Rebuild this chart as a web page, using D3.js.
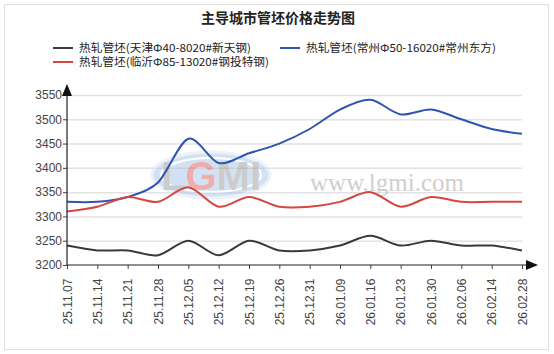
<!DOCTYPE html>
<html>
<head>
<meta charset="utf-8">
<script src="https://cdn.jsdelivr.net/npm/d3@7"></script>
<style>
  body { margin: 0; background: #fff; }
</style>
</head>
<body>
<script>
// data
var dates = ['25.11.07', '25.11.14', '25.11.21', '25.11.28', '25.12.05', '25.12.12', '25.12.19', '25.12.26',
  '25.12.31', '26.01.09', '26.01.16', '26.01.23', '26.01.30', '26.02.06', '26.02.14', '26.02.28'];
var tianjin = [3240, 3230, 3230, 3220, 3250, 3220, 3250, 3230, 3230, 3240, 3260, 3240, 3250, 3240, 3240, 3230];
var changzhou = [3330, 3330, 3340, 3370, 3460, 3410, 3430, 3450, 3480, 3520, 3540, 3510, 3520, 3500, 3480, 3470];
var linyi = [3310, 3320, 3340, 3330, 3360, 3320, 3340, 3320, 3320, 3330, 3350, 3320, 3340, 3330, 3330, 3330];
var yTicks = [3200, 3250, 3300, 3350, 3400, 3450, 3500, 3550];

var seriesNames = ['热轧管坯(天津Φ40-8020#新天钢)', '热轧管坯(常州Φ50-16020#常州东方)', '热轧管坯(临沂Φ85-13020#钢投特钢)'];
var seriesColors = ['#3a3a3a', '#2f55b0', '#d64541'];
var seriesData = [tianjin, changzhou, linyi];

var width = 554;
var height = 354;
var plotLeft = 67, plotRight = 522, plotTop = 95, plotBottom = 265;
var numFont = '"Liberation Sans", Arial, sans-serif';
var cjkFont = '"Noto Sans CJK SC", sans-serif';

var svg = d3.select('body').append('svg')
  .attr('width', width)
  .attr('height', height);

// outer frame
svg.append('rect')
  .attr('x', 4.5).attr('y', 4.5)
  .attr('width', 544).attr('height', 345)
  .attr('fill', '#fff')
  .attr('stroke', '#e0e0e0');

// title
svg.append('text')
  .style('font-family', cjkFont)
  .attr('x', 278).attr('y', 23)
  .attr('text-anchor', 'middle')
  .attr('font-size', 14)
  .attr('font-weight', 'bold')
  .attr('fill', '#222')
  .text('主导城市管坯价格走势图');

// legend
var legendPos = [[53, 48], [280, 48], [53, 62]];
seriesNames.forEach(function(name, i) {
  var g = svg.append('g').attr('transform', 'translate(' + legendPos[i][0] + ',' + legendPos[i][1] + ')');
  g.append('line').attr('x1', 0).attr('x2', 20).attr('y1', 0).attr('y2', 0)
    .attr('stroke', seriesColors[i]).attr('stroke-width', 2);
  g.append('text')
    .style('font-family', cjkFont)
    .attr('x', 26).attr('y', 4)
    .attr('font-size', 11)
    .attr('fill', '#222')
    .attr('textLength', i === 0 ? 172 : 190)
    .attr('lengthAdjust', 'spacingAndGlyphs')
    .text(name);
});

var x = d3.scalePoint().domain(dates).range([plotLeft, plotRight]);
var y = d3.scaleLinear().domain([3200, 3550]).range([plotBottom, plotTop]);

// grid
svg.append('g').selectAll('line')
  .data(yTicks.slice(1))
  .enter().append('line')
  .attr('x1', plotLeft).attr('x2', plotRight)
  .attr('y1', function(d) { return y(d) + 0.5; })
  .attr('y2', function(d) { return y(d) + 0.5; })
  .attr('stroke', '#e2e2e2')
  .attr('stroke-width', 1.5);

// watermark
var wm = svg.append('g').attr('opacity', 0.5);
wm.append('ellipse')
  .attr('cx', 211).attr('cy', 175).attr('rx', 59).attr('ry', 23)
  .attr('fill', '#a9c6e8').attr('stroke', '#d9e6f4').attr('stroke-width', 3);
wm.append('ellipse')
  .attr('cx', 211).attr('cy', 175).attr('rx', 50).attr('ry', 17)
  .attr('fill', 'none').attr('stroke', '#ffffff').attr('stroke-width', 2);
var logo = wm.append('text')
  .style('font-family', numFont)
  .attr('x', 211).attr('y', 190)
  .attr('text-anchor', 'middle')
  .attr('font-size', 40)
  .attr('font-weight', 'bold')
  .attr('fill', '#9a9a9a');
logo.append('tspan').text('L');
logo.append('tspan').attr('fill', '#e06060').text('G');
logo.append('tspan').text('MI');
svg.append('text')
  .style('font-family', '"Liberation Serif", serif')
  .attr('x', 387).attr('y', 191)
  .attr('text-anchor', 'middle')
  .attr('font-size', 25)
  .attr('fill', '#cfcfcf')
  .text('www.lgmi.com');

// lines
var line = d3.line()
  .x(function(d, i) { return x(dates[i]); })
  .y(function(d) { return y(d); })
  .curve(d3.curveCardinal.tension(0.1));

svg.append('g').selectAll('path')
  .data(seriesData)
  .enter().append('path')
  .attr('d', line)
  .attr('fill', 'none')
  .attr('stroke', function(d, i) { return seriesColors[i]; })
  .attr('stroke-width', 2);

// axes
var yAxis = svg.append('g')
  .attr('transform', 'translate(' + plotLeft + ',0)')
  .call(d3.axisLeft(y).tickValues(yTicks).tickFormat(d3.format('d')).tickSize(4).tickSizeOuter(0).tickPadding(1));
yAxis.select('.domain').remove();
yAxis.selectAll('text').style('font-family', numFont).attr('font-size', 12).attr('fill', '#444');
yAxis.selectAll('line').attr('stroke', '#444');

var xAxis = svg.append('g')
  .attr('transform', 'translate(0,' + plotBottom + ')')
  .call(d3.axisBottom(x).tickSize(4).tickSizeOuter(0));
xAxis.select('.domain').remove();
xAxis.selectAll('line').attr('stroke', '#444');
xAxis.selectAll('text')
  .style('font-family', numFont)
  .attr('font-size', 12)
  .attr('fill', '#444')
  .attr('transform', 'rotate(-90)')
  .attr('text-anchor', 'end')
  .attr('dx', '-0.8em')
  .attr('dy', '0.35em')
  .attr('y', 0)
  .attr('x', -4);

// axis lines with arrowheads
svg.append('line')
  .attr('x1', plotLeft).attr('x2', plotLeft).attr('y1', plotBottom).attr('y2', 90)
  .attr('stroke', '#222').attr('stroke-width', 1.2);
svg.append('path')
  .attr('d', 'M' + (plotLeft - 5) + ',' + 96 + 'L' + plotLeft + ',' + 84 + 'L' + (plotLeft + 5) + ',' + 96 + 'Z')
  .attr('fill', '#111');
svg.append('line')
  .attr('x1', plotLeft).attr('x2', 530).attr('y1', plotBottom).attr('y2', plotBottom)
  .attr('stroke', '#222').attr('stroke-width', 1.2);
svg.append('path')
  .attr('d', 'M' + 526 + ',' + (plotBottom - 5) + 'L' + 538 + ',' + plotBottom + 'L' + 526 + ',' + (plotBottom + 5) + 'Z')
  .attr('fill', '#111');
</script>
</body>
</html>
